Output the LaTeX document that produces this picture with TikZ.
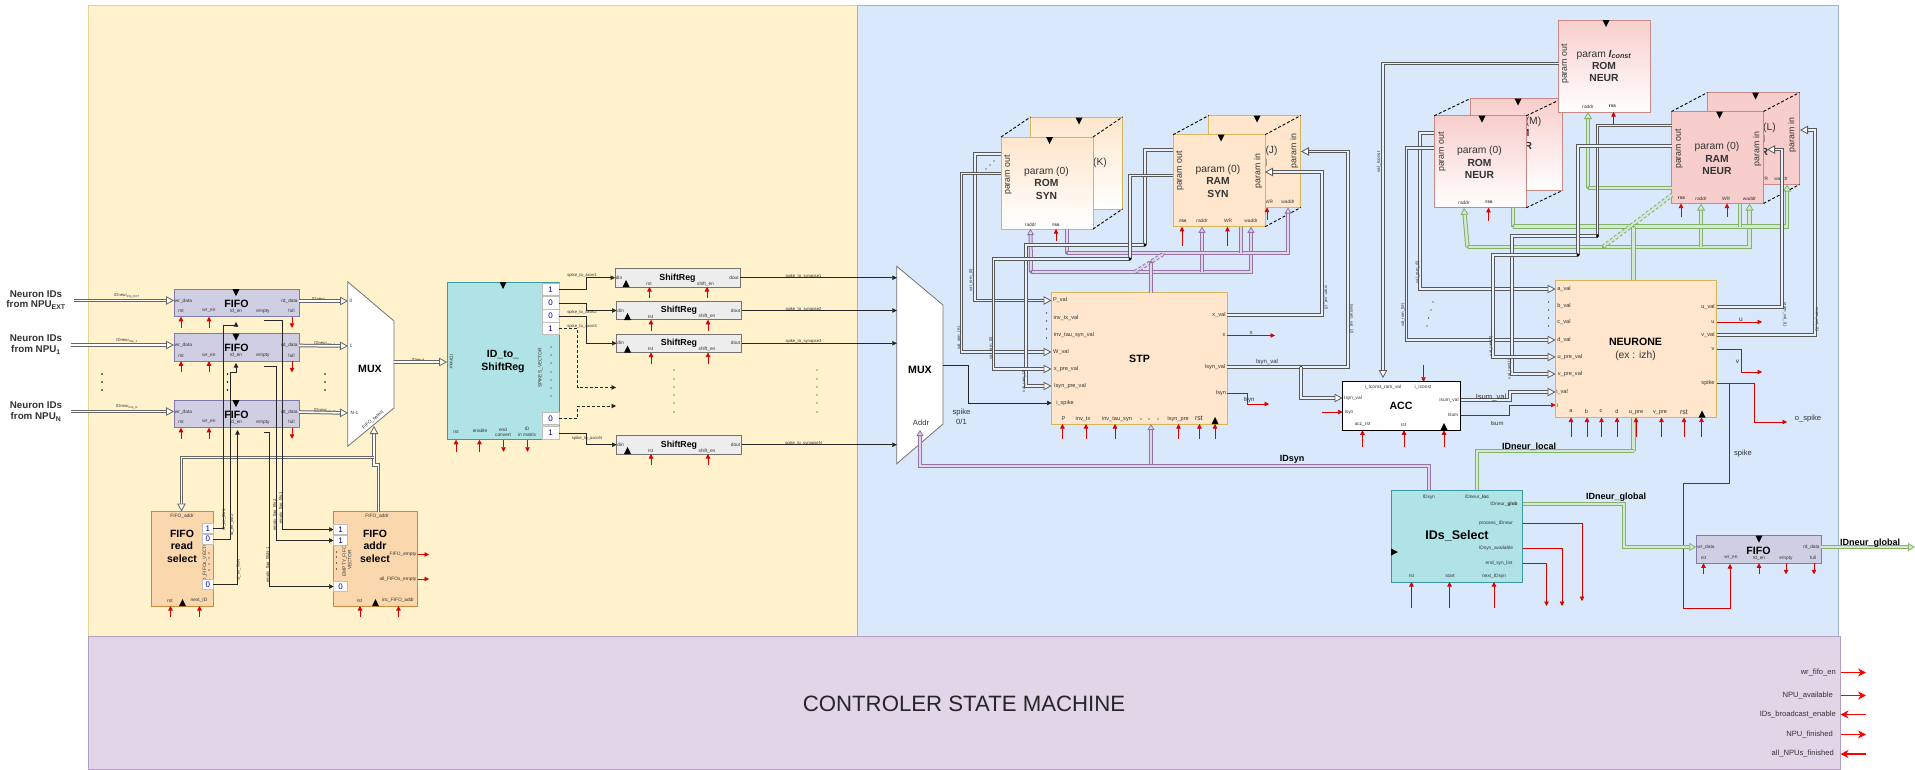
\documentclass[tikz,border=0pt]{standalone}
\usepackage{fontspec}
\setmainfont{Liberation Sans}
\usepackage{xcolor}
\definecolor{yelbg}{HTML}{FFF2CC}
\definecolor{yeldr}{HTML}{E5D28F}
\definecolor{blubg}{HTML}{DAE8FC}
\definecolor{bludr}{HTML}{9DB4D8}
\definecolor{purbg}{HTML}{E1D5E7}
\definecolor{purdr}{HTML}{9673A6}
\definecolor{grnbg}{HTML}{D5E8D4}
\definecolor{grndr}{HTML}{82B366}
\definecolor{fifobg}{HTML}{D0CEE2}
\definecolor{fifodr}{HTML}{7F7BA8}
\definecolor{orgbg}{HTML}{FAD7AC}
\definecolor{orgdr}{HTML}{CC8B3A}
\definecolor{tealbg}{HTML}{B0E3E6}
\definecolor{tealdr}{HTML}{3A9AA3}
\definecolor{pchbg}{HTML}{FFE6CC}
\definecolor{pchdr}{HTML}{D6B656}
\definecolor{pnkbg}{HTML}{F8CECC}
\definecolor{pnkdr}{HTML}{C98A87}
\definecolor{txt}{HTML}{333333}
\usetikzlibrary{arrows.meta,positioning,calc}
\tikzset{
  >={Triangle[length=4.5pt,width=4.5pt]},
  pin/.style={font=\fontsize{4.8}{5.4}\selectfont,text=txt,inner sep=0,align=center},
  wirelab/.style={font=\fontsize{4.2}{5}\selectfont,text=txt,inner sep=0},
  rwirelab/.style={wirelab,rotate=90},
  title/.style={font=\fontsize{10.6}{12.6}\selectfont\bfseries,inner sep=0,align=center},
  memtxt/.style={font=\fontsize{10.3}{12.4}\selectfont,text=txt,inner sep=0,align=center},
  memrot/.style={font=\fontsize{8.8}{10}\selectfont,text=txt,inner sep=0,rotate=90},
  biglab/.style={font=\fontsize{7.6}{9}\selectfont,text=txt,inner sep=0},
  boldlab/.style={font=\fontsize{9}{10}\selectfont\bfseries,text=black,inner sep=0},
  block/.style={inner sep=0,outer sep=0,line width=.7pt},
  fifobox/.style={block,draw=fifodr,fill=fifobg,minimum width=125pt,minimum height=27.5pt},
  regbox/.style={block,draw=black!55,fill=black!7,minimum width=125pt,minimum height=18.5pt},
  cell/.style={block,draw=black!25,fill=white,text=blue!70!black,font=\fontsize{8}{9}\selectfont},
  memsyn/.style={block,draw=pchdr,top color=pchbg,bottom color=white,minimum size=92pt},
  ramsyn/.style={block,draw=pchdr,fill=pchbg,minimum size=92pt},
  memneu/.style={block,draw=pnkdr,top color=pnkbg,bottom color=white,minimum size=92pt},
  ramneu/.style={block,draw=pnkdr,fill=pnkbg,minimum size=92pt},
  muxbox/.style={draw=black!55,fill=white,line width=.8pt,line join=miter},
  sig/.style={->,draw=black!85,line width=.65pt},
  sigdash/.style={sig,densely dashed},
  sigr/.style={->,draw=red!85!black,line width=.6pt},
  gbus/.style={draw=black!60,line width=1pt,double=white,double distance=1.6pt},
  kbus/.style={draw=black!65,line width=1pt,double=blubg!60,double distance=1.5pt},
  pbus/.style={draw=purdr,line width=1pt,double=purbg,double distance=2pt},
  vbus/.style={draw=grndr,line width=1pt,double=grnbg,double distance=2.4pt},
  gtip/.style={-{Triangle[open,fill=white,length=8pt,width=8.5pt,line width=.8pt]}},
  ptip/.style={-{Triangle[open,fill=purbg,length=6pt,width=7pt,line width=.8pt,color=purdr]}},
  vtip/.style={-{Triangle[open,fill=grnbg,length=7pt,width=8pt,line width=.8pt,color=grndr]}},
  ctlout/.style={->,draw=red,line width=1.5pt,>={Stealth[length=8pt,width=8pt]}},
  ctlin/.style={<-,draw=red,line width=1.5pt,>={Stealth[length=8pt,width=8pt]}},
}
\begin{document}
\begin{tikzpicture}[x=1pt,y=-1pt]
\useasboundingbox (0,0) rectangle (1915,769);
\fill[white] (0,0) rectangle (1915,769);
\draw[draw=yeldr,fill=yelbg,line width=.7pt] (88,5) rectangle (857,636);
\draw[draw=bludr,fill=blubg,line width=.7pt] (857,5) rectangle (1838.5,636);
\node[block,draw=purdr!70,fill=purbg,minimum width=1752pt,minimum height=133pt] (ctl) at (964.5,702.5) {};
\node[inner sep=0,font=\fontsize{22.2}{24}\selectfont,text=black!85] (ctltxt) at (964,704) {CONTROLER STATE MACHINE};

% left inputs and fifos
\foreach \n/\d/\top/\bot/\sb/\xs in {a/0/294/305/EXT/74,b/44.5/338/350/1/71,c/111/405/417/N/71}{
  \node[font=\fontsize{9.8}{11}\selectfont\bfseries,text=txt,inner sep=0] (nrn\n) at (36,\top) {Neuron IDs};
  \node[font=\fontsize{9.8}{11}\selectfont\bfseries,text=txt,inner sep=0] (npu\n) at (36,\bot) {from NPU\textsubscript{\sb}};
  \node[fifobox] (fifo\n) at (236.5,303+\d) {};
  \node[title] (fifot\n) at (236.5,303.5+\d) {FIFO};
  \node[pin] (wr\n) at (183.5,301+\d) {wr\_data};
  \node[pin] (rd\n) at (289.5,301+\d) {rd\_data};
  \node[pin] at (181,311+\d) {rst};
  \node[pin] at (209,311+\d) {wr\_en};
  \node[pin] at (236,311+\d) {rd\_en};
  \node[pin] at (263,311+\d) {empty};
  \node[pin] at (291.5,311+\d) {full};
  \coordinate (src\n) at (\xs,300.5+\d);
  \draw[gbus,gtip] (src\n) -- (fifo\n.west |- src\n);
  \node[wirelab] at (127,296+\d) {IDneur\textsubscript{tmp\_\sb}};
  \node[wirelab] at (325,299.5+\d) {IDneur\textsubscript{tmp\_\sb}};
}
\draw[gbus,gtip] (fifoa.east |- rda) -- (348,301);
\draw[gbus,gtip] (fifob.east |- rdb) -- (348,346);
\draw[gbus,gtip] (fifoc.east |- rdc) -- (348,413);
\foreach \x in {102,227.5,325}{\foreach \y in {374,382,390}{\fill (\x,\y) circle (.8);}}

% first mux
\node[inner sep=0,minimum width=46pt,minimum height=164pt] (muxa) at (371,364) {};
\draw[muxbox] (muxa.north west) -- (394,321) -- (394,408) -- (muxa.south west) -- cycle;
\node[title] at (370,368.5) {MUX};
\node[pin] at (351,301) {0};
\node[pin] at (351,346) {1};
\node[pin] at (354.5,413) {N-1};
\node[pin,rotate=40] at (373,420) {FIFO\_select};
\node[wirelab] at (418,360) {IDneur};

% fifo read and addr select
\node[block,draw=orgdr,fill=orgbg,minimum width=62pt,minimum height=94.5pt] (rdsel) at (182,558.75) {};
\node[block,draw=orgdr,fill=orgbg,minimum width=84pt,minimum height=94.5pt] (addrsel) at (375.5,558.75) {};
\node[title,font=\fontsize{10.5}{12.6}\selectfont\bfseries] at (182,546) {FIFO\\read\\select};
\node[title,font=\fontsize{10.5}{12.6}\selectfont\bfseries] at (375,546) {FIFO\\addr\\select};
\node[pin] at (182,516) {FIFO\_addr};
\node[pin] at (377,516) {FIFO\_addr};
\node[pin] at (170,600.5) {rst};
\node[pin] at (199,600.5) {next\_ID};
\node[pin] at (359.5,600.5) {rst};
\node[pin] at (398,600.5) {inc\_FIFO\_addr};
\node[pin,rotate=90] at (205,562) {RD\_FIFOs\_VECTOR};
\node[pin,rotate=90] at (347,560) {EMPTY\_FIFOs\\VECTOR};
\node[pin] (femp) at (403,554.5) {FIFO\_empty};
\node[pin] (aemp) at (398,579) {all\_FIFOs\_empty};
\node[cell,minimum width=10.5pt,minimum height=10pt] (rsa) at (207.75,528.5) {1};
\node[cell,minimum width=10.5pt,minimum height=10pt] (rsb) at (207.75,539) {0};
\node[cell,minimum width=10.5pt,minimum height=10pt] (rsc) at (207.75,584.5) {0};
\node[cell,minimum width=14pt,minimum height=10.5pt] (asa) at (340.5,529.5) {1};
\node[cell,minimum width=14pt,minimum height=10.5pt] (asb) at (340.5,540.5) {1};
\node[cell,minimum width=14pt,minimum height=10.5pt] (asc) at (340.5,586.5) {0};
\foreach \y in {553,558,564,570}{\fill (209,\y) circle (.6); \fill (336.5,\y-1) circle (.6);}
\coordinate (fempo) at (429,554.5);
\coordinate (aempo) at (429,579);
\draw[sigr] (addrsel.east |- femp) -- (fempo);
\draw[sigr] (addrsel.east |- aemp) -- (aempo);

% fifo_addr buses
\coordinate (addrtop) at (378.5,511.5);
\coordinate (muxsel) at (374,426);
\coordinate (busj) at (374,457.5);
\coordinate (rdtop) at (181.5,511.5);
\draw[gbus,gtip] (addrtop) -- (378.5,465) -- (374,465) -- (muxsel);
\draw[gbus,gtip] (busj) -- (181.5,457.5) -- (rdtop);

% rd_en and empty wires
\coordinate (rena) at (236,322);
\coordinate (renb) at (236,363);
\coordinate (renc) at (237.5,430);
\draw[sig] (rsa.east) -| (223,325.5) -| (rena);
\draw[sig] (rsb.east) -| (230,372) -| (renb);
\draw[sig] (rsc.east) -| (renc);
\coordinate (ema) at (264,320);
\coordinate (emb) at (264,366);
\coordinate (emc) at (264,432);
\draw[sig] (ema) -| (282.5,529.5) -- (asa.west);
\draw[sig] (emb) -| (276,540.5) -- (asb.west);
\draw[sig] (emc) -| (269.5,586.5) -- (asc.west);
\node[rwirelab] at (224,520) {rd\_en\_fifo1};
\node[rwirelab] at (232,525) {rd\_en\_fifo2};
\node[rwirelab] at (238.5,570) {rd\_en\_fifoN};
\node[rwirelab] at (281,508) {empty\_flag\_fifo1};
\node[rwirelab] at (275,515) {empty\_flag\_fifo2};
\node[rwirelab] at (268,565) {empty\_flag\_fifoN-1};

% id to shiftreg
\node[block,draw=tealdr,fill=tealbg,minimum width=112.5pt,minimum height=157.5pt] (idreg) at (503.25,361) {};
\node[title,font=\fontsize{10.5}{13}\selectfont\bfseries] at (503,361) {ID\_to\_\\ShiftReg};
\node[pin,rotate=-90] (idpin) at (451.5,362) {IDneur};
\node[pin,rotate=90] at (540.5,368) {SPIKES\_VECTOR};
\node[pin] at (456,432) {rst};
\node[pin] at (480,431) {enable};
\node[pin] at (503,432) {end\\convert};
\node[pin] at (527,432) {ID\\in matrix};
\draw[gbus,gtip] (muxa.east |- idpin) -- (idreg.west |- idpin);
\foreach \n/\y/\v in {a/289.5/1,b/303/0,c/316/0,d/328.5/1,e/418.5/0,f/433/1}{
  \node[cell,minimum width=17pt,minimum height=12.5pt] (sp\n) at (550.5,\y) {\v};
}
\foreach \y in {347,355,363,372,380,388,396}{\fill (551,\y) circle (.7);}

% shift registers
\foreach \n/\x/\y/\t in {a/677.5/277.75/1,b/679/310.5/2,c/679/343.25/3,d/679/444.75/N}{
  \node[regbox] (sr\n) at (\x,\y) {};
  \node[title,font=\fontsize{8.8}{10}\selectfont\bfseries] at (\x,\y) {ShiftReg};
  \node[pin] at (\x-58.5,\y) {din};
  \node[pin] at (\x+56.5,\y) {dout};
  \node[pin] at (\x-28.5,\y+6) {rst};
  \node[pin] at (\x+28,\y+6) {shift\_en};
  \node[wirelab] at (803.5,\y-1.5) {spike\_to\_synapse\t};
}
\draw[sig] (spa.east) -| (586,277.75) -- (sra.west);
\draw[sig] (spb.east) -| (586,310.5) -- (srb.west);
\draw[sig] (spc.east) -| (586,343.25) -- (src.west);
\draw[sig] (spf.east) -| (586,444.75) -- (srd.west);
\coordinate (dsa) at (616,387.5);
\coordinate (dsb) at (616,406);
\draw[sigdash] (spd.east) -| (577.5,387.5) -- (dsa);
\draw[sigdash] (spe.east) -| (577.5,406) -- (dsb);
\node[wirelab] at (582,275.5) {spike\_to\_axon1};
\node[wirelab] at (582,312) {spike\_to\_axon2};
\node[wirelab] at (582,326) {spike\_to\_axon3};
\node[wirelab] at (587,438) {spike\_to\_axonN};
\foreach \x in {674,817}{\foreach \y in {370,379,387,395,403,412}{\fill (\x,\y) circle (.7);}}

% second mux
\node[inner sep=0,minimum width=46pt,minimum height=197pt] (muxb) at (920,365) {};
\draw[muxbox] (muxb.north west) -- (943,305) -- (943,424) -- (muxb.south west) -- cycle;
\node[title] at (920,370) {MUX};
\node[biglab] (addrl) at (921,423) {Addr};
\coordinate (addrpt) at (920,430);
\draw[sig] (sra.east) -- (muxb.west |- sra.east);
\draw[sig] (srb.east) -- (muxb.west |- srb.east);
\draw[sig] (src.east) -- (muxb.west |- src.east);
\draw[sig] (srd.east) -- (muxb.west |- srd.east);
\node[biglab,align=center,font=\fontsize{7.6}{10}\selectfont] at (961.5,417) {spike\\0/1};

% stp block
\node[block,draw=pchdr,fill=pchbg,minimum width=175.5pt,minimum height=131.5pt] (stp) at (1139.25,358.25) {};
\node[title] at (1139.5,358.5) {STP};
\foreach \nm/\x/\y/\t in {pval/1060/300.5/P\_val,itx/1066/318/inv\_tx\_val,itau/1074/335/inv\_tau\_syn\_val,wval/1061/352/W\_val,xpre/1066/369/x\_pre\_val,ipre/1070/386/Isyn\_pre\_val,ispk/1065/403/i\_spike,xval/1219/315/x\_val,xout/1224/335.5/x,isv/1215/367/Isyn\_val,isy/1221/393/Isyn,bp/1063.5/419/P,bit/1083/419/inv\_tx,bta/1117/419/inv\_tau\_syn,bip/1178/419/Isyn\_pre}{
  \node[pin,font=\fontsize{5.6}{6}\selectfont] (\nm) at (\x,\y) {\t};
}
\node[pin,font=\fontsize{7}{8}\selectfont] at (1199,418.5) {rst};
\foreach \x in {1141,1149,1158}{\fill (\x,419) circle (.7);}
\foreach \y in {313,321,329,338}{\fill (1046.5,\y) circle (.7);}
\draw[sig] (muxb.east) -| (968,403) -- (stp.west |- ispk);

% rom syn
\node[memsyn] (rsynb) at (1076.5,163) {};
\node[memtxt] at (1084,163) {param (K)};
\node[memsyn] (rsyn) at (1047,183) {};
\draw[densely dashed,line width=.9pt] (rsyn.north west) -- (rsynb.north west);
\draw[densely dashed,line width=.9pt] (rsyn.north east) -- (rsynb.north east);
\draw[densely dashed,line width=.9pt] (rsyn.south east) -- (rsynb.south east);
\node[memtxt] at (1046.5,183) {param (0)\\\textbf{ROM}\\\textbf{SYN}};
\node[memrot] at (1008,175) {param out};
\node[pin] (rsra) at (1030.5,225) {raddr};
\node[pin] (rsre) at (1056,225) {\textbf{rss}};
\foreach \x/\y in {986/169,990/165,994/161}{\fill (\x,\y) circle (.7);}

% ram syn
\node[ramsyn] (msynb) at (1254.75,161.5) {};
\node[memtxt] at (1255.5,162.5) {param (J)\\\textbf{RAM}\\\textbf{SYN}};
\node[memrot] at (1294,151) {param in};
\node[pin] (mbwr) at (1269,202) {WR};
\node[pin] (mbwa) at (1288,202) {waddr};
\node[ramsyn] (msyn) at (1219,180.75) {};
\draw[densely dashed,line width=.9pt] (msyn.north west) -- (msynb.north west);
\draw[densely dashed,line width=.9pt] (msyn.north east) -- (msynb.north east);
\draw[densely dashed,line width=.9pt] (msyn.south east) -- (msynb.south east);
\node[memtxt] at (1218,181) {param (0)\\\textbf{RAM}\\\textbf{SYN}};
\node[memrot] at (1180,171) {param out};
\node[memrot] at (1258,171) {param in};
\node[pin] (msre) at (1183,221) {\textbf{rss}};
\node[pin] (msra) at (1202,221) {raddr};
\node[pin] (mswr) at (1228,221) {WR};
\node[pin] (mswa) at (1251,221) {waddr};

% purple buses for syn
\coordinate (pura) at (1031,272);
\coordinate (purb) at (1066.5,253);
\coordinate (purc) at (1151,262);
\coordinate (purd) at (1135,272);
\coordinate (pure) at (1165,253);
\coordinate (purf) at (1151,465.5);
\draw[pbus,ptip] (pura) -- (rsyn.south -| rsra);
\draw[pbus,ptip] (pura) -| (msyn.south -| mswa);
\draw[pbus,ptip] (msra |- pura) -- (msyn.south -| msra);
\draw[pbus] (rsyn.south -| purb) -- (purb);
\draw[pbus,ptip] (purb) -| (msynb.south -| mbwa);
\draw[pbus] (msyn.south -| 1241,0) -- (1241,253);
\draw[pbus,densely dashed] (purd) -- (pure);
\draw[pbus] (purc) -- (stp.north -| purc);
\draw[pbus,ptip] (purf) -- (stp.south -| purf);
\foreach \p in {pura,purb,purc}{\fill[purdr] (\p) circle (1.6);}

% syn param buses
\coordinate (kja) at (1145,245);
\coordinate (kjb) at (1130,259);
\coordinate (rsa1) at (1001,154);
\coordinate (rsa2) at (1001,173.5);
\coordinate (msa1) at (1173,150);
\coordinate (msa2) at (1173,175.5);
\draw[kbus,gtip] (rsa1) -| (975,300.5) -- (stp.west |- pval);
\draw[kbus,gtip] (rsa2) -| (961.5,352) -- (stp.west |- wval);
\draw[kbus] (msa1) -| (kja);
\draw[kbus,gtip] (kja) -| (1026,386) -- (stp.west |- ipre);
\draw[kbus] (msa2) -| (kjb);
\draw[kbus,gtip] (kjb) -| (993.5,369) -- (stp.west |- xpre);
\fill (kja) circle (1.7);
\fill (kjb) circle (1.7);
\node[rwirelab] at (971,280) {val\_rom\_(0)};
\node[rwirelab] at (959,338) {val\_rom\_(K)};
\node[rwirelab] at (991,348) {val\_ram\_(0)};
\node[rwirelab] at (1024,381) {val\_ram\_(J)};

% stp outputs
\coordinate (ramin) at (1265,172);
\coordinate (rambin) at (1301,151.5);
\coordinate (kjc) at (1301,367);
\draw[kbus,gtip] (stp.east |- xval) -| (1322,172) -- (ramin);
\draw[kbus,gtip] (stp.east |- isv) -| (1348,151.5) -- (rambin);
\fill (kjc) circle (1.2);
\node[biglab,font=\fontsize{6}{7}\selectfont] at (1267,362) {Isyn\_val};
\node[wirelab,rotate=-90] at (1326,298) {xram\_val\_(J)};
\node[wirelab,rotate=-90] at (1351.5,319) {Isynram\_val\_(J)};
\coordinate (xo) at (1275,335.5);
\coordinate (iso) at (1269,404);
\draw[sigr] (stp.east |- xout) -- (xo);
\draw[sigr] (stp.east |- isy) -| (1247,404) -- (iso);
\node[biglab,font=\fontsize{6}{7}\selectfont] at (1251,333) {x};
\node[biglab,font=\fontsize{6}{7}\selectfont] at (1249,400) {Isyn};

% acc
\node[block,draw=black,fill=white,minimum width=118pt,minimum height=48.5pt] (acc) at (1401.5,406) {};
\node[title] at (1401,406) {ACC};
\foreach \nm/\x/\y/\t in {acra/1383/387/i\_Iconst\_ram\_val,acic/1423/387/i\_Iconst,acis/1353/398/Isyn\_val,acsy/1349/412/Isyn,acrs/1362.5/424.5/acc\_rst,acrt/1403.5/424.5/rst,acsv/1449/400/Isum\_val,acsu/1453/415/Isum}{
  \node[pin] (\nm) at (\x,\y) {\t};
}
\draw[kbus,gtip] (kjc) |- (acc.west |- acis);
\coordinate (acclft) at (1322,412);
\coordinate (acctop) at (1423.5,365);
\draw[sigr] (acclft) -- (acc.west |- acsy);
\draw[sigr] (acctop) -- (acc.north -| acctop);

% neurone
\node[block,draw=pchdr,fill=pchbg,minimum width=161pt,minimum height=137.5pt] (neu) at (1636,348.75) {};
\node[title] at (1635.5,342) {NEURONE};
\node[memtxt] at (1635.5,356) {(ex : izh)};
\foreach \nm/\x/\y/\t in {naval/1564/289/a\_val,nbval/1564/306/b\_val,ncval/1564/322/c\_val,ndval/1564/340/d\_val,nupre/1570/357/u\_pre\_val,nvpre/1570/374/v\_pre\_val,nival/1562/392/i\_val,ni/1557.5/405/i,nuval/1708/307/u\_val,nu/1713/322/u,nvval/1708/335/v\_val,nv/1713/349/v,nspk/1708/383.5/spike,nba/1571/411/a,nbb/1586.5/411/b,nbc/1601/411/c,nbd/1617/411/d,nbu/1636/412.5/u\_pre,nbv/1660/412.5/v\_pre}{
  \node[pin,font=\fontsize{5.6}{6}\selectfont] (\nm) at (\x,\y) {\t};
}
\node[pin,font=\fontsize{7}{8}\selectfont] at (1684,412) {rst};
\foreach \y in {302,310,318,326}{\fill (1548.5,\y) circle (.7);}
\foreach \x/\y in {1433/302,1431/310,1428.5/318,1427/326}{\fill (\x,\y) circle (.7);}
\draw[kbus,gtip] (acc.east |- acsv) -| (1510,392) -- (neu.west |- nival);
\draw[sigr] (acc.east |- acsu) -| (1509,405) -- (neu.west |- ni);
\node[biglab] at (1491,397) {Isum\_val};
\node[biglab,font=\fontsize{6}{7}\selectfont] at (1497,423) {Isum};
\coordinate (uo) at (1762,322);
\coordinate (vo) at (1762,372);
\coordinate (so) at (1787,422);
\coordinate (spj) at (1729,383.5);
\coordinate (wrpt) at (1730,564);
\draw[sigr] (neu.east |- nu) -- (uo);
\draw[sigr] (neu.east |- nv) -| (1741,372) -- (vo);
\draw[sigr] (neu.east |- nspk) -| (1754.5,422) -- (so);
\draw[sigr] (spj) |- (1683,483.5) |- (1730,608) -- (wrpt);
\node[biglab,font=\fontsize{6.5}{7}\selectfont] at (1741,320) {u};
\node[biglab,font=\fontsize{6.5}{7}\selectfont] at (1737.5,362) {v};
\node[biglab] at (1808,419) {o\_spike};
\node[biglab] at (1743,454) {spike};

% rom neur
\node[memneu] (rneub) at (1516,144.75) {};
\node[memtxt] at (1517.5,133) {param (M)\\\textbf{ROM}\\\textbf{NEUR}};
\node[memneu] (rneu) at (1480.25,161.75) {};
\draw[densely dashed,line width=.9pt] (rneu.north west) -- (rneub.north west);
\draw[densely dashed,line width=.9pt] (rneu.north east) -- (rneub.north east);
\draw[densely dashed,line width=.9pt] (rneu.south east) -- (rneub.south east);
\node[memtxt] at (1479.5,162.5) {param (0)\\\textbf{ROM}\\\textbf{NEUR}};
\node[memrot] at (1442,152) {param out};
\node[pin] (rnra) at (1464,202.5) {raddr};
\node[pin] (rnre) at (1489,202.5) {\textbf{rss}};

% rom iconst
\node[memneu] (rcon) at (1604.25,66) {};
\node[memtxt] at (1604,66) {param \textbf{\textit{I\textsubscript{const}}}\\\textbf{ROM}\\\textbf{NEUR}};
\node[memrot] at (1565,64) {param out};
\node[pin] (rcra) at (1588,106.5) {raddr};
\node[pin] (rcre) at (1612.5,106.5) {\textbf{rss}};

% ram neur
\node[ramneu] (mneub) at (1753.5,138.5) {};
\node[memtxt] at (1753.5,139) {param (L)\\\textbf{RAM}\\\textbf{NEUR}};
\node[memrot] at (1792,135) {param in};
\node[pin] (mnbr) at (1764,179) {WR};
\node[pin] (mnbw) at (1781,179) {waddr};
\node[ramneu] (mneu) at (1717.5,157.5) {};
\draw[densely dashed,line width=.9pt] (mneu.north west) -- (mneub.north west);
\draw[densely dashed,line width=.9pt] (mneu.north east) -- (mneub.north east);
\draw[densely dashed,line width=.9pt] (mneu.south east) -- (mneub.south east);
\node[memtxt] at (1717,158.5) {param (0)\\\textbf{RAM}\\\textbf{NEUR}};
\node[memrot] at (1679,149) {param out};
\node[memrot] at (1757,149) {param in};
\node[pin] (mnre) at (1681.5,198.5) {\textbf{rss}};
\node[pin] (mnra) at (1701,198.5) {raddr};
\node[pin] (mnwr) at (1726,198.5) {WR};
\node[pin] (mnwa) at (1749.5,198.5) {waddr};

% green buses
\coordinate (grna) at (1467.5,247);
\coordinate (grnb) at (1513,226.5);
\coordinate (grnc) at (1633.5,226.5);
\coordinate (grnd) at (1603,247);
\coordinate (grne) at (1672,195);
\coordinate (grnf) at (1588,188);
\coordinate (grng) at (1633.5,451);
\draw[vbus,vtip] (grna) -- (rneu.south -| rnra);
\draw[vbus,vtip] (grna) -| (mneu.south -| mnwa);
\draw[vbus,vtip] (mnra |- grna) -- (mneu.south -| mnra);
\draw[vbus] (rneu.south -| grnb) -- (grnb);
\draw[vbus,vtip] (grnb) -| (mneub.south -| 1787,0);
\draw[vbus] (mneu.south -| 1740,0) -- (1740,226.5);
\draw[vbus,vtip] (grnf) -- (rcon.south -| grnf);
\draw[vbus] (grnf) -- (mneu.west |- grnf);
\draw[vbus,densely dashed] (grnd) -- (grne);
\draw[vbus] (grnc) -- (neu.north -| grnc);
\draw[vbus] (neu.south -| grnc) -- (grng);
\foreach \p in {grna,grnb,grnc,grnd,grnf,grng}{\fill[grndr] (\p) circle (1.4);}

% neur param buses
\coordinate (kjd) at (1597.5,236);
\coordinate (kje) at (1578,255);
\coordinate (rna1) at (1434,133);
\coordinate (rna2) at (1434,148);
\coordinate (mna1) at (1671.5,125.5);
\coordinate (mna2) at (1671.5,146);
\coordinate (rca1) at (1558.5,63.5);
\coordinate (acci) at (1383,378);
\draw[kbus,gtip] (rca1) -| (acci);
\draw[kbus,gtip] (rna1) -| (1420,289) -- (neu.west |- naval);
\draw[kbus,gtip] (rna2) -| (1406.5,340) -- (neu.west |- ndval);
\draw[kbus] (mna1) -| (kjd);
\draw[kbus,gtip] (kjd) -| (1512,374) -- (neu.west |- nvpre);
\draw[kbus] (mna2) -| (kje);
\draw[kbus,gtip] (kje) -| (1493,357) -- (neu.west |- nupre);
\fill (kjd) circle (1.7);
\fill (kje) circle (1.7);
\node[rwirelab,font=\fontsize{4.6}{5}\selectfont] at (1379,162) {val\_Iconst};
\node[rwirelab] at (1417.5,272) {val\_rom\_(0)};
\node[rwirelab] at (1403,315) {val\_rom\_(M)};
\node[rwirelab] at (1491,346) {val\_ram(0)};
\node[rwirelab] at (1509.5,369) {val\_ram(L)};
\coordinate (mnin) at (1767,149.5);
\coordinate (mnbin) at (1800,130);
\draw[kbus,gtip] (neu.east |- nuval) -| (1782,149.5) -- (mnin);
\draw[kbus,gtip] (neu.east |- nvval) -| (1815,130) -- (mnbin);
\node[wirelab,rotate=-90] at (1785,315) {uram\_val\_(L)};
\node[wirelab,rotate=-90] at (1817,320) {vram\_val\_(L)};

% ids select
\node[block,draw=tealdr,fill=tealbg,minimum width=131.5pt,minimum height=92pt] (ids) at (1456.75,536) {};
\node[title,font=\fontsize{12.5}{14}\selectfont\bfseries] at (1457,536) {IDs\_Select};
\foreach \nm/\x/\y/\t in {iss/1429/497.5/IDsyn,isl/1477/497.5/IDneur\_\textbf{loc},isg/1504/504/IDneur\_\textbf{glob},isp/1496/523/process\_IDneur,isa/1496/548/IDsyn\_available,ise/1499/563/end\_syn\_list,isr/1411.5/576/rst,ist/1450/576/start,isn/1494/576/next\_IDsyn}{
  \node[pin] (\nm) at (\x,\y) {\t};
}
\draw[vbus] (grng) -| (ids.north -| isl);
\node[boldlab] at (1529,447) {IDneur\_local};
\draw[pbus,ptip] (ids.north -| iss) |- (920,465.5) -- (addrpt);
\node[boldlab] at (1292,459) {IDsyn};
\coordinate (ppo) at (1582,601);
\coordinate (pao) at (1562,606);
\coordinate (peo) at (1546.5,606);
\draw[sigr] (ids.east |- isp) -| (ppo);
\draw[sigr] (ids.east |- isa) -| (pao);
\draw[sigr] (ids.east |- ise) -| (peo);

% fifo out
\node[fifobox] (fifod) at (1758.75,549.5) {};
\node[title] at (1758.5,550.5) {FIFO};
\foreach \nm/\x/\y/\t in {fdwr/1706/547/wr\_data,fdrd/1811.5/547/rd\_data,fdrs/1703.5/558/rst,fdwe/1731/558/wr\_en,fdre/1759/558/rd\_en,fdem/1786/558/empty,fdfu/1813/558/full}{
  \node[pin] (\nm) at (\x,\y) {\t};
}
\draw[vbus,vtip] (ids.east |- isg) -| (1624,547) -- (fifod.west |- fdwr);
\coordinate (gout) at (1915,547);
\draw[vbus,vtip] (fifod.east |- fdrd) -- (gout);
\node[boldlab] at (1616,497) {IDneur\_global};
\node[boldlab] at (1870,543.5) {IDneur\_global};

% clock marks
\foreach \x/\y in {236/289,236/333.5,236/400,503/282,1049.5/137,1079/117.5,1221/134.5,1257/115.5,1482/115.7,1518/98.5,1606/20,1719.5/111.5,1755.5/92.5,1759/535.7}{
  \fill (\x-3.5,\y) -- ++(7,0) -- ++(-3.5,7) -- cycle;
}
\foreach \x/\y in {182.5/606,375.5/606,626/287,627.5/320,627.5/352.5,627.5/454,1215/424,1444/430,1702/417.5}{
  \fill (\x-3.5,\y) -- ++(7,0) -- ++(-3.5,-7) -- cycle;
}
\fill (1391,548.5) -- ++(0,7) -- ++(7,-3.5) -- cycle;

% red stubs going in from below
\foreach \b/\x/\l [count=\i] in {fifoa/181/11,fifoa/209/11,fifob/181/11,fifob/209/11,fifoc/181/11,fifoc/209/11,rdsel/170.5/11,rdsel/199.5/11,addrsel/360/11,addrsel/398.5/11,idreg/456/12,idreg/479.5/12,sra/649.5/11,sra/707/11,srb/651/11,srb/708/11,src/651/11,src/708/11,srd/651/11,srd/708/11,stp/1062.5/15,stp/1086/15,stp/1115/15,stp/1178.5/15,stp/1199.5/15,stp/1215/15,rsyn/1056/12,msyn/1182/19,msyn/1227.5/19,msynb/1267/12,acc/1362.5/17,acc/1404/17,acc/1444/17,neu/1571/19,neu/1587/19,neu/1601.5/19,neu/1617/19,neu/1636/19,neu/1661.5/19,neu/1684/19,neu/1701.5/19,ids/1411.5/26,ids/1449.5/26,ids/1494/26,rneu/1488.5/13,rcon/1613.5/13,mneu/1681/13,mneu/1727/13,fifod/1703.5/11,fifod/1759/11}{
  \coordinate (up\i) at ([yshift=-\l pt]\b.south -| \x,0);
  \draw[sigr] (up\i) -- (up\i |- \b.south);
}
% red stubs going out below
\foreach \b/\x/\l [count=\i] in {fifoa/292/11,fifob/292/11,fifoc/292/11,idreg/503.5/12,idreg/527.5/12,fifod/1786/11,fifod/1814/11}{
  \coordinate (dn\i) at ([yshift=-\l pt]\b.south -| \x,0);
  \draw[sigr] (\b.south -| dn\i) -- (dn\i);
}

% controller pins
\foreach \t/\y/\xt/\st [count=\i] in {wr\_fifo\_en/672/1836/ctlout,NPU\_available/695/1833/ctlout,IDs\_broadcast\_enable/714/1836/ctlin,NPU\_finished/734/1833/ctlout,all\_NPUs\_finished/753.5/1834/ctlin}{
  \node[biglab,anchor=east] (ctlp\i) at (\xt,\y) {\t};
  \coordinate (ctlo\i) at (1866,\y+.5);
  \draw[\st] (ctl.east |- ctlo\i) -- (ctlo\i);
}
\end{tikzpicture}
\end{document}
